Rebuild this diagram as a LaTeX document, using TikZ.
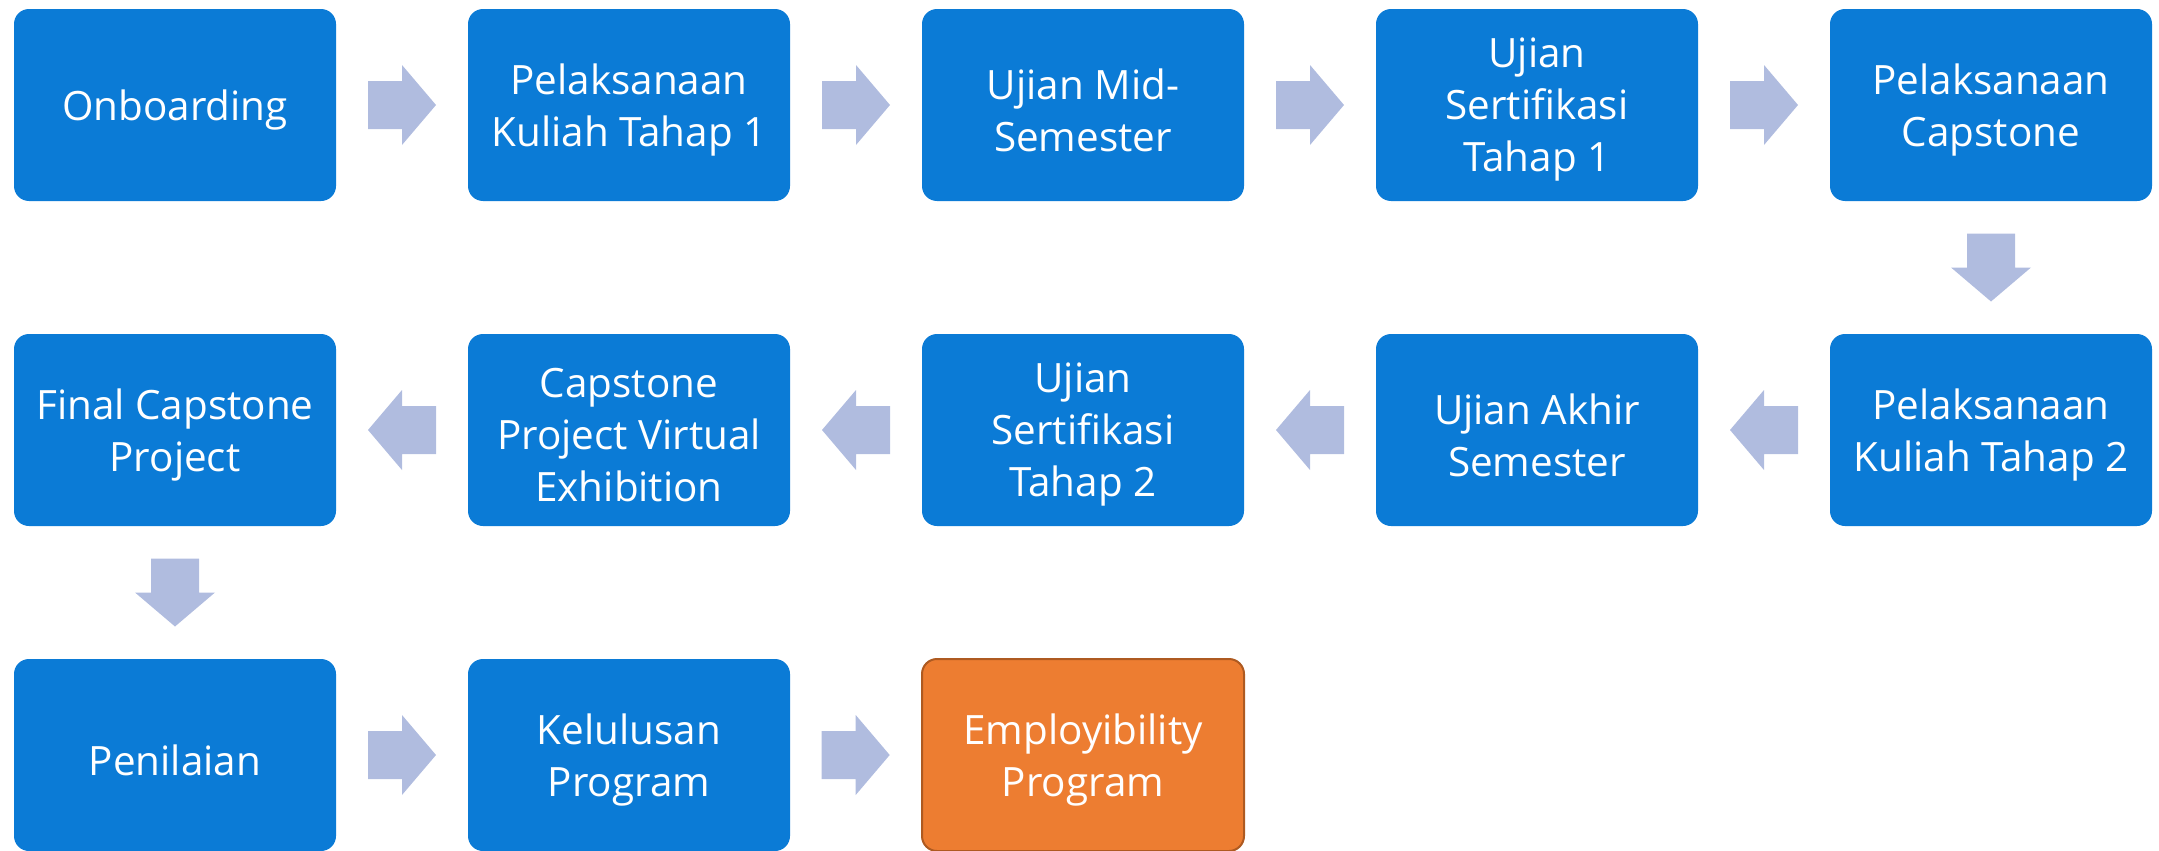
\documentclass[tikz,border=0pt]{standalone}
\usepackage{fontspec}
\setmainfont{Open Sans}
\usetikzlibrary{calc}
\definecolor{boxblue}{RGB}{11,123,214}
\definecolor{arrowc}{RGB}{176,188,223}
\definecolor{boxorange}{RGB}{237,125,49}
\definecolor{orangeedge}{RGB}{174,90,33}
\tikzset{
  box/.style={rounded corners=7.5pt, fill=boxblue, draw=none, minimum width=161pt, minimum height=96pt,
    inner sep=0pt},
  obox/.style={box, fill=boxorange, draw=orangeedge, line width=1pt},
  txt/.style={inner sep=0pt, align=center, text=white, font=\fontsize{20.2pt}{26pt}\selectfont},
}
% block arrow centred at a named coordinate, rotated by #2
\newcommand\blockarrow[2]{%
  \fill[arrowc, shift={(#1)}, rotate=#2] (-34,-24) -- (0,-24) -- (0,-40) -- (34,0) -- (0,40) -- (0,24) -- (-34,24) -- cycle;}
\begin{document}
\begin{tikzpicture}[x=0.5pt,y=-0.5pt]
\useasboundingbox (0,0) rectangle (2159,851);
% row 1
\node[box] (b1) at (175,105) {};
\node[box] (b2) at (629,105) {};
\node[box] (b3) at (1083,105) {};
\node[box] (b4) at (1537,105) {};
\node[box] (b5) at (1991,105) {};
% row 2
\node[box] (b6) at (1991,430) {};
\node[box] (b7) at (1537,430) {};
\node[box] (b8) at (1083,430) {};
\node[box] (b9) at (629,430) {};
\node[box] (b10) at (175,430) {};
% row 3
\node[box] (b11) at (175,755) {};
\node[box] (b12) at (629,755) {};
\node[obox] (b13) at (1083,755) {};
% texts
\node[txt] (t1) at ([yshift=-2.5pt]b1.center) {Onboarding};
\node[txt] (t2) at ([yshift=-2.5pt]b2.center) {Pelaksanaan\\Kuliah Tahap 1};
\node[txt] (t3) at ([yshift=-2.5pt]b3.center) {Ujian Mid-\\Semester};
\node[txt] (t4) at ([yshift=-2.5pt]b4.center) {Ujian\\Sertifikasi\\Tahap 1};
\node[txt] (t5) at ([yshift=-2.5pt]b5.center) {Pelaksanaan\\Capstone};
\node[txt] (t6) at ([yshift=-2.5pt]b6.center) {Pelaksanaan\\Kuliah Tahap 2};
\node[txt] (t7) at ([yshift=-2.5pt]b7.center) {Ujian Akhir\\Semester};
\node[txt] (t8) at ([yshift=-2.5pt]b8.center) {Ujian\\Sertifikasi\\Tahap 2};
\node[txt] (t9) at ([yshift=-2.5pt]b9.center) {Capstone\\Project Virtual\\Exhibition};
\node[txt] (t10) at ([yshift=-2.5pt]b10.center) {Final Capstone\\Project};
\node[txt] (t11) at ([yshift=-2.5pt]b11.center) {Penilaian};
\node[txt] (t12) at ([yshift=-2.5pt]b12.center) {Kelulusan\\Program};
\node[txt] (t13) at ([yshift=-2.5pt]b13.center) {Employibility\\Program};
% arrow positions
\coordinate (a1) at ($(b1.east)!0.5!(b2.west)$);
\coordinate (a2) at ($(b2.east)!0.5!(b3.west)$);
\coordinate (a3) at ($(b3.east)!0.5!(b4.west)$);
\coordinate (a4) at ($(b4.east)!0.5!(b5.west)$);
\coordinate (a5) at ($(b5.south)!0.5!(b6.north)$);
\coordinate (a6) at ($(b6.west)!0.5!(b7.east)$);
\coordinate (a7) at ($(b7.west)!0.5!(b8.east)$);
\coordinate (a8) at ($(b8.west)!0.5!(b9.east)$);
\coordinate (a9) at ($(b9.west)!0.5!(b10.east)$);
\coordinate (a10) at ($(b10.south)!0.5!(b11.north)$);
\coordinate (a11) at ($(b11.east)!0.5!(b12.west)$);
\coordinate (a12) at ($(b12.east)!0.5!(b13.west)$);
\blockarrow{a1}{0}
\blockarrow{a2}{0}
\blockarrow{a3}{0}
\blockarrow{a4}{0}
\blockarrow{a5}{-90}
\blockarrow{a6}{180}
\blockarrow{a7}{180}
\blockarrow{a8}{180}
\blockarrow{a9}{180}
\blockarrow{a10}{-90}
\blockarrow{a11}{0}
\blockarrow{a12}{0}
\end{tikzpicture}
\end{document}
